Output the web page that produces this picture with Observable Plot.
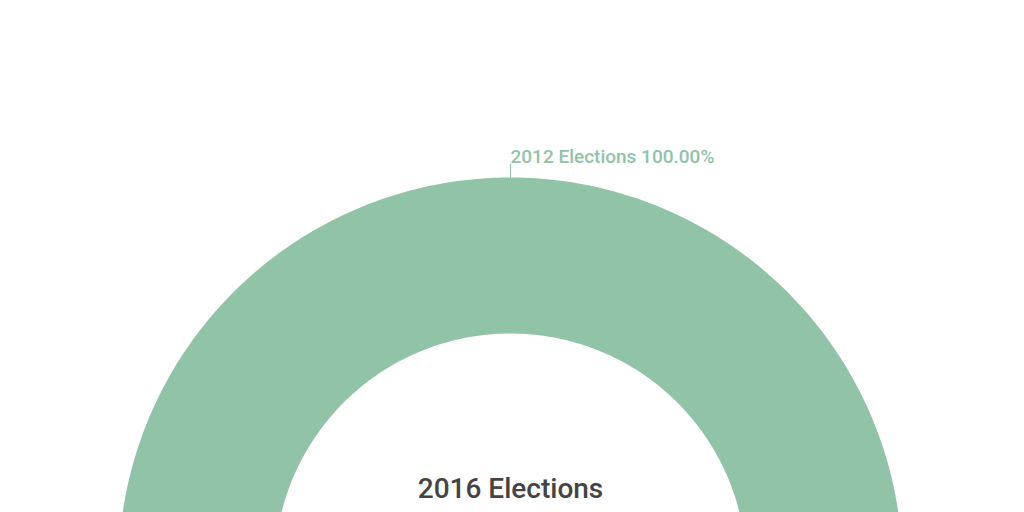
<!DOCTYPE html>
<html>
<head>
<meta charset="utf-8">
<script src="https://cdn.jsdelivr.net/npm/d3@7"></script>
<script src="https://cdn.jsdelivr.net/npm/@observablehq/plot@0.6"></script>
<style>
  html, body { margin: 0; padding: 0; background: #fff; }
  body { width: 1024px; height: 512px; overflow: hidden; font-family: Roboto, sans-serif; }
</style>
</head>
<body>
<div id="chart"></div>
<script>
const categories = ["2012 Elections"];
const values = [100];
const colors = ["#91c3a7"];
const centerTitle = "2016 Elections";

const outerR = 392, innerR = 236;
const pie = d3.pie().sort(null)(values);

// Build ring polygons per slice (angles from d3.pie, 0 = top, clockwise)
const ringPts = [];
pie.forEach((s, i) => {
  const n = 360;
  for (let k = 0; k <= n; k++) {
    const a = s.startAngle + (s.endAngle - s.startAngle) * k / n;
    ringPts.push({cat: categories[i], x: outerR * Math.sin(a), y: outerR * Math.cos(a)});
  }
  for (let k = n; k >= 0; k--) {
    const a = s.startAngle + (s.endAngle - s.startAngle) * k / n;
    ringPts.push({cat: categories[i], x: innerR * Math.sin(a), y: innerR * Math.cos(a)});
  }
});

const total = d3.sum(values);
const labels = pie.map((s, i) => {
  const a = s.startAngle;
  return {
    cat: categories[i],
    text: `${categories[i]} ${(values[i] / total * 100).toFixed(2)}%`,
    x0: outerR * Math.sin(a), y0: outerR * Math.cos(a),
    x1: (outerR + 14) * Math.sin(a), y1: (outerR + 14) * Math.cos(a),
    tx: (outerR + 21) * Math.sin(a), ty: (outerR + 21) * Math.cos(a)
  };
});

const chart = Plot.plot({
  width: 1024,
  height: 512,
  margin: 0,
  x: {domain: [-510, 514], axis: null},
  y: {domain: [57, 569], axis: null},
  color: {domain: categories, range: colors},
  style: {fontFamily: "Roboto, sans-serif", background: "#fff", overflow: "hidden"},
  marks: [
    Plot.line(ringPts, {x: "x", y: "y", z: "cat", fill: "cat", stroke: null, curve: "linear", clip: true}),
    Plot.link(labels, {x1: "x0", y1: "y0", x2: "x1", y2: "y1", stroke: "cat", strokeWidth: 1}),
    Plot.text(labels, {x: "tx", y: "ty", text: "text", fill: "cat", textAnchor: "start", dx: 0, fontSize: 19, fontWeight: 500}),
    Plot.text([centerTitle], {x: 0, y: 80, text: d => d, fill: "#444444", fontSize: 28, fontWeight: 500, textAnchor: "middle"})
  ]
});
document.getElementById("chart").appendChild(chart);
</script>
</body>
</html>
